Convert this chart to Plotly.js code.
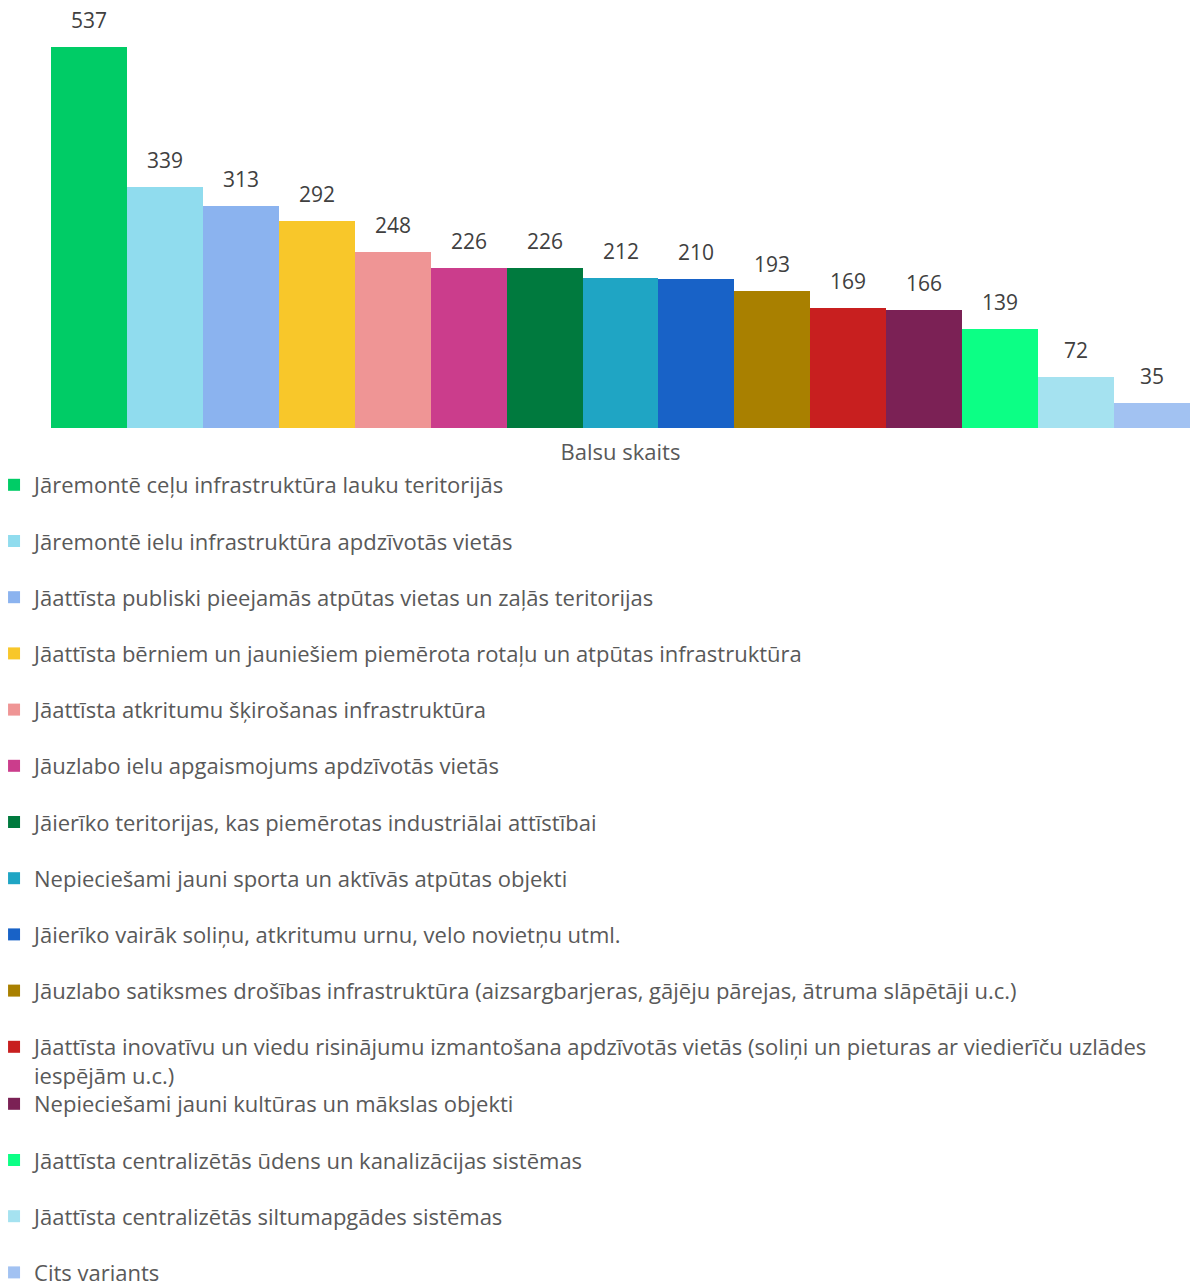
<!DOCTYPE html>
<html><head><meta charset="utf-8">
<script src="https://cdn.plot.ly/plotly-3.0.1.min.js"></script>
<style>html,body{margin:0;padding:0;background:#fff}</style>
</head><body><div id="chart" style="width:1198px;height:1282px"></div>
<script>
const categoryLabel = "Balsu skaits";
const seriesNames = [
  "Jāremontē ceļu infrastruktūra lauku teritorijās",
  "Jāremontē ielu infrastruktūra apdzīvotās vietās",
  "Jāattīsta publiski pieejamās atpūtas vietas un zaļās teritorijas",
  "Jāattīsta bērniem un jauniešiem piemērota rotaļu un atpūtas infrastruktūra",
  "Jāattīsta atkritumu šķirošanas infrastruktūra",
  "Jāuzlabo ielu apgaismojums apdzīvotās vietās",
  "Jāierīko teritorijas, kas piemērotas industriālai attīstībai",
  "Nepieciešami jauni sporta un aktīvās atpūtas objekti",
  "Jāierīko vairāk soliņu, atkritumu urnu, velo novietņu utml.",
  "Jāuzlabo satiksmes drošības infrastruktūra (aizsargbarjeras, gājēju pārejas, ātruma slāpētāji u.c.)",
  "Jāattīsta inovatīvu un viedu risinājumu izmantošana apdzīvotās vietās (soliņi un pieturas ar viedierīču uzlādes iespējām u.c.)",
  "Nepieciešami jauni kultūras un mākslas objekti",
  "Jāattīsta centralizētās ūdens un kanalizācijas sistēmas",
  "Jāattīsta centralizētās siltumapgādes sistēmas",
  "Cits variants"
];
const values = [537, 339, 313, 292, 248, 226, 226, 212, 210, 193, 169, 166, 139, 72, 35];
const colors = ["#00CC66", "#90DCEE", "#8BB3EF", "#F8C72A", "#EF9595", "#CB3D8C", "#007A3E", "#1FA5C4",
  "#1862C7", "#A98000", "#C81F1F", "#7B2155", "#0CFF85", "#A5E2F0", "#A2C2F2"];
// the long legend entry wraps after "uzlādes"
const wrapAfter = "uzlādes ";

const FONT = "'Open Sans', 'Noto Sans', sans-serif";
const traces = seriesNames.map((name, i) => ({
  type: 'bar',
  name: name.replace(wrapAfter, wrapAfter.trim() + '<br>'),
  legendgroup: 'g' + i,
  legend: i < 11 ? 'legend' : 'legend2',
  x: [name],
  y: [values[i]],
  marker: {color: colors[i], line: {width: 0}},
  hoverinfo: 'y+name'
}));

const annotations = seriesNames.map((name, i) => ({
  x: name, y: values[i], xref: 'x', yref: 'y',
  text: String(values[i]), showarrow: false,
  yanchor: 'middle', yshift: 27,
  font: {family: FONT, size: 21, color: '#404040'}
}));

const legendCommon = {
  orientation: 'v', traceorder: 'grouped', tracegroupgap: 24.6,
  xref: 'paper', yref: 'paper', xanchor: 'left', yanchor: 'top',
  valign: 'top', itemwidth: 30, bgcolor: 'rgba(0,0,0,0)',
  font: {family: FONT, size: 22, color: '#595959'}, itemclick: false, itemdoubleclick: false
};

const layout = {
  width: 1198, height: 1282,
  margin: {l: 51, r: 8, t: 20, b: 854, autoexpand: false},
  paper_bgcolor: '#fff', plot_bgcolor: '#fff',
  barmode: 'overlay', bargap: 0,
  font: {family: FONT, color: '#595959'},
  showlegend: true,
  xaxis: {
    type: 'category', showticklabels: false, ticks: '', showgrid: false, zeroline: false, showline: false,
    title: {text: categoryLabel, font: {family: FONT, size: 22, color: '#595959'}, standoff: 16}
  },
  yaxis: {range: [0, 575], visible: false, showgrid: false, zeroline: false},
  legend: Object.assign({}, legendCommon, {x: -0.05, y: (428 - 464) / 408}),
  legend2: Object.assign({}, legendCommon, {x: -0.05, y: (428 - 1083) / 408}),
  annotations: annotations
};

Plotly.newPlot('chart', traces, layout, {displayModeBar: false, staticPlot: true});
</script>
</body></html>
